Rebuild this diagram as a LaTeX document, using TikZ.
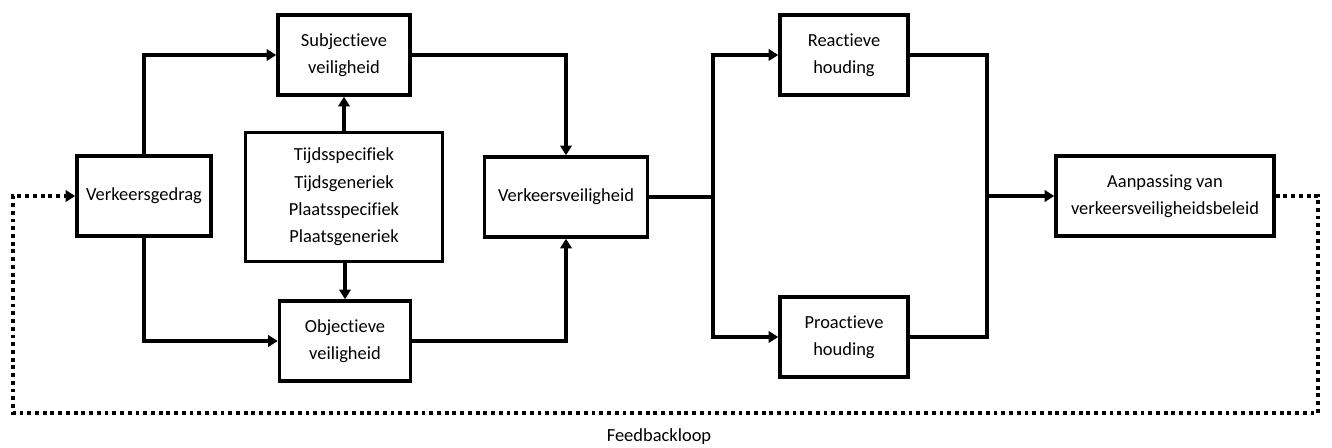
\documentclass[tikz,border=0pt]{standalone}
\usepackage{fontspec}
\setmainfont[Ligatures=NoCommon]{Carlito}
\usetikzlibrary{arrows.meta, positioning}
\tikzset{
  blokNode/.style={
    draw=black,
    line width=2pt,
    align=center,
    inner sep=0pt,
    minimum height=1.6cm,
    font=\fontsize{10.5}{15.5}\selectfont,
    fill=white
  },
  hoofdFlow/.style={-{Triangle[length=5.5pt,width=6.5pt]}, line width=2pt, draw=black},
  lijnFlow/.style={line width=2pt, draw=black},
  feedbackFlow/.style={-{Triangle[length=5.5pt,width=6.5pt]}, line width=2pt, draw=black, dash pattern=on 2.2pt off 2.2pt}
}
\begin{document}
\begin{tikzpicture}[x=0.02cm, y=-0.02cm]
  \useasboundingbox (0,0) rectangle (1332,448);

  \node[blokNode, minimum width=2.68cm] (gedrag) at (144,196) {Verkeersgedrag};
  \node[blokNode, minimum width=2.64cm] (subj) at (344,55) {Subjectieve\\veiligheid};
  \node[blokNode, minimum width=3.94cm, minimum height=2.58cm] (tijd) at (344,197) {Tijdsspecifiek\\Tijdsgeneriek\\Plaatsspecifiek\\Plaatsgeneriek};
  \node[blokNode, minimum width=2.62cm] (obj) at (345,341) {Objectieve\\veiligheid};
  \node[blokNode, minimum width=3.26cm] (veilig) at (566,197) {Verkeersveiligheid};
  \node[blokNode, minimum width=2.56cm] (reactief) at (844,55) {Reactieve\\houding};
  \node[blokNode, minimum width=2.56cm] (proactief) at (844,337) {Proactieve\\houding};
  \node[blokNode, minimum width=4.36cm] (beleid) at (1165,196) {Aanpassing van\\verkeersveiligheidsbeleid};

  \coordinate (splitL) at (713,197);
  \coordinate (mergeR) at (987,196);
  \coordinate (loopR) at (1318,413);
  \coordinate (loopL) at (13,413);

  \draw[hoofdFlow] (gedrag.north) |- (subj.west);
  \draw[hoofdFlow] (gedrag.south) |- (obj.west);
  \draw[hoofdFlow] (tijd.north) -- (subj.south);
  \draw[hoofdFlow] (tijd.south -| obj.north) -- (obj.north);
  \draw[hoofdFlow] (subj.east) -| (veilig.north);
  \draw[hoofdFlow] (obj.east) -| (veilig.south);

  \draw[lijnFlow] (veilig.east) -- (splitL);
  \draw[hoofdFlow] (splitL) |- (reactief.west);
  \draw[hoofdFlow] (splitL) |- (proactief.west);

  \draw[lijnFlow] (reactief.east) -| (mergeR);
  \draw[lijnFlow] (proactief.east) -| (mergeR);
  \draw[hoofdFlow] (mergeR) -- (beleid.west);

  \draw[feedbackFlow] (beleid.east) -| (loopR) -- (loopL) |- (gedrag.west);
  \node[font=\fontsize{10.5}{12}\selectfont] (loop) at (659,437) {Feedbackloop};
\end{tikzpicture}
\end{document}
